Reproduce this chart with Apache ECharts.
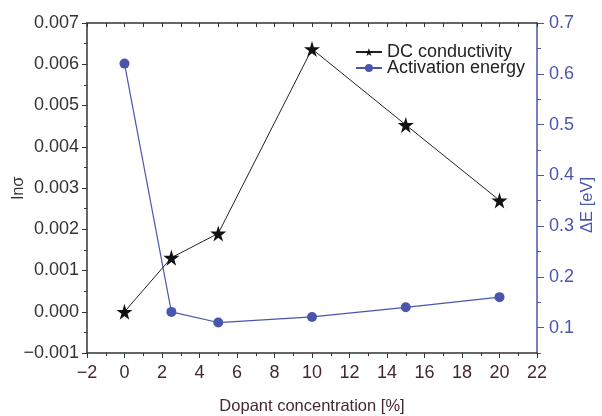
<!DOCTYPE html>
<html>
<head>
<meta charset="utf-8">
<script src="https://cdn.jsdelivr.net/npm/echarts@6/dist/echarts.min.js"></script>
<style>
  html, body { margin: 0; padding: 0; background: #fff; }
  #chart { width: 602px; height: 416px; }
</style>
</head>
<body>
<div id="chart"></div>
<script>
const concentration = [0, 2.5, 5, 10, 15, 20]
const dcConductivity = [0.0, 0.00131, 0.0019, 0.00637, 0.00453, 0.0027]
const activationEnergy = [0.62, 0.131, 0.11, 0.121, 0.14, 0.16]
const energyTicks = [0.1, 0.2, 0.3, 0.4, 0.5, 0.6, 0.7]

const starPath = 'path://M50,0 L61,35 L98,35 L68,57 L79,91 L50,70 L21,91 L32,57 L2,35 L39,35 Z'
const font = '"Liberation Sans", Arial, sans-serif'
const blue = '#4a56ac'
const brown = '#43292f'
const dark = '#333'

const chart = echarts.init(document.getElementById('chart'))

const option = {
  animation: false,
  textStyle: { fontFamily: font },
  grid: { left: 87, right: 65, top: 23, bottom: 63, containLabel: false, outerBoundsMode: 'none' },
  legend: {
    right: 72,
    top: 38,
    orient: 'vertical',
    itemGap: -2,
    itemWidth: 26,
    itemHeight: 10,
    textStyle: { fontSize: 18, color: '#222', fontFamily: font },
    data: ['DC conductivity', 'Activation energy']
  },
  xAxis: [
    {
      type: 'value',
      min: -2,
      max: 22,
      interval: 2,
      name: 'Dopant concentration [%]',
      nameLocation: 'middle',
      nameGap: 45,
      nameMoveOverlap: false,
      nameTextStyle: { fontSize: 16.5, color: brown },
      axisLine: { onZero: false, lineStyle: { color: dark, width: 1.5 } },
      axisTick: { length: 5, lineStyle: { color: dark } },
      minorTick: { show: true, splitNumber: 2, length: 3, lineStyle: { color: dark } },
      axisLabel: {
        fontSize: 18, color: brown, margin: 11,
        formatter: v => (v < 0 ? '\u2212' + Math.abs(v) : String(v))
      },
      splitLine: { show: false }
    },
    {
      type: 'value',
      position: 'top',
      min: -2,
      max: 22,
      interval: 2,
      axisLine: { onZero: false, lineStyle: { color: dark, width: 1.5 } },
      axisTick: { inside: true, length: 4, lineStyle: { color: dark } },
      minorTick: { show: true, splitNumber: 2, length: 4, lineStyle: { color: dark } },
      axisLabel: { show: false },
      splitLine: { show: false }
    }
  ],
  yAxis: [
    {
      type: 'value',
      min: -0.001,
      max: 0.007,
      interval: 0.001,
      name: 'ln\u03c3',
      nameLocation: 'middle',
      nameGap: 60,
      nameMoveOverlap: false,
      nameRotate: 90,
      nameTextStyle: { fontSize: 16.5, color: dark },
      axisLine: { show: true, onZero: false, lineStyle: { color: dark, width: 1.5 } },
      axisTick: { length: 5, lineStyle: { color: dark } },
      minorTick: { show: true, splitNumber: 2, length: 3, lineStyle: { color: dark } },
      axisLabel: {
        fontSize: 18, color: dark, margin: 8,
        formatter: v => (v < 0 ? '\u2212' + Math.abs(v).toFixed(3) : v.toFixed(3))
      },
      splitLine: { show: false }
    },
    {
      type: 'value',
      position: 'right',
      min: 0.05,
      max: 0.7,
      interval: 0.05,
      name: '\u0394E [eV]',
      nameLocation: 'middle',
      nameGap: 42,
      nameMoveOverlap: false,
      nameRotate: 90,
      nameTextStyle: { fontSize: 16.5, color: blue, padding: [0, 34, 0, 0] },
      axisLine: { show: true, onZero: false, lineStyle: { color: blue, width: 1.5 } },
      axisTick: { length: 7, customValues: energyTicks, lineStyle: { color: blue } },
      axisLabel: {
        fontSize: 18, color: blue, margin: 12,
        customValues: energyTicks,
        formatter: v => v.toFixed(1)
      },
      splitLine: { show: false }
    },
    {
      // short minor ticks on the right axis
      type: 'value',
      position: 'right',
      min: 0.05,
      max: 0.7,
      interval: 0.05,
      axisLine: { show: false, onZero: false },
      axisTick: { show: true, length: 4, lineStyle: { color: blue } },
      axisLabel: { show: false },
      splitLine: { show: false }
    }
  ],
  series: [
    {
      name: 'DC conductivity',
      type: 'line',
      xAxisIndex: 0,
      yAxisIndex: 0,
      data: concentration.map((x, i) => [x, dcConductivity[i]]),
      symbol: starPath,
      symbolSize: 16,
      lineStyle: { color: '#222', width: 1 },
      itemStyle: { color: '#111' },
      z: 3
    },
    {
      name: 'Activation energy',
      type: 'line',
      xAxisIndex: 0,
      yAxisIndex: 1,
      data: concentration.map((x, i) => [x, activationEnergy[i]]),
      symbol: 'circle',
      symbolSize: 10,
      lineStyle: { color: blue, width: 1.2 },
      itemStyle: { color: blue },
      z: 2
    }
  ]
}

chart.setOption(option)
</script>
</body>
</html>
